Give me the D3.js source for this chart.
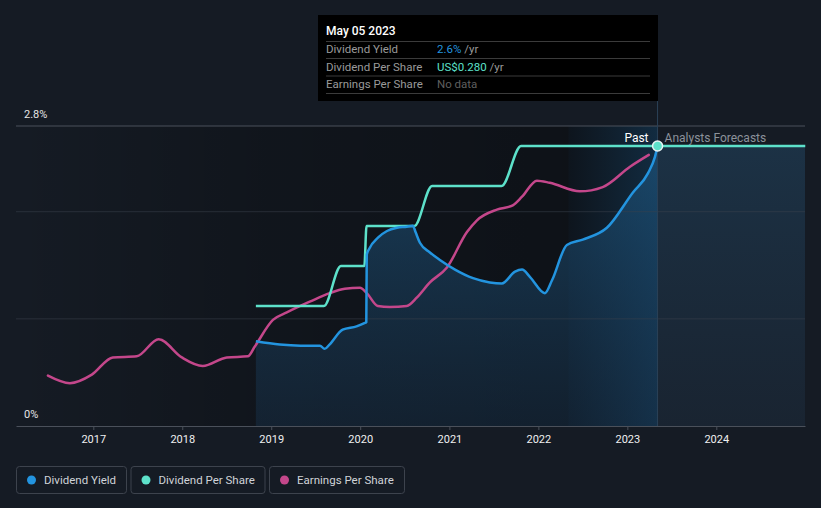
<!DOCTYPE html>
<html>
<head>
<meta charset="utf-8">
<script src="https://cdn.jsdelivr.net/npm/d3@7"></script>
<style>
  html, body { margin: 0; padding: 0; background: #151b24; }
  svg { display: block; }
  text { font-family: Roboto, "Noto Sans", sans-serif; }
</style>
</head>
<body>
<svg id="chart" width="821" height="508"></svg>
<script>
// ---------- DATA ----------
const yearTicks = [2017, 2018, 2019, 2020, 2021, 2022, 2023, 2024];
const yTickLabels = ["0%", "2.8%"];
const seriesNames = ["Dividend Yield", "Dividend Per Share", "Earnings Per Share"];

// Dividend yield (%)
const yieldDates = ["2018-10-30","2019-02-05","2019-05-01","2019-07-20","2019-08-08","2019-08-28","2019-10-21","2019-12-17","2020-01-18","2020-01-26","2020-01-28","2020-02-06","2020-03-15","2020-04-20","2020-05-31","2020-07-10","2020-08-04","2020-08-15","2020-09-02","2020-10-13","2020-11-23","2021-01-24","2021-04-08","2021-06-16","2021-08-04","2021-09-27","2021-10-26","2021-11-28","2022-01-28","2022-02-26","2022-04-28","2022-07-02","2022-10-09","2023-01-24","2023-03-27","2023-04-24","2023-05-05"];
const yieldValues = [0.79,0.76,0.75,0.75,0.72,0.76,0.90,0.93,0.96,0.97,1.60,1.65,1.76,1.82,1.85,1.86,1.87,1.81,1.71,1.62,1.55,1.46,1.38,1.34,1.33,1.44,1.46,1.39,1.24,1.36,1.69,1.74,1.85,2.18,2.36,2.51,2.61];

// Dividend per share (US$)
const dpsDates = ["2018-10-30","2019-08-05","2019-10-14","2020-01-18","2020-01-27","2020-08-10","2020-10-22","2021-08-03","2021-10-22","2024-12-31"];
const dpsValues = [0.12,0.12,0.16,0.16,0.20,0.20,0.24,0.24,0.28,0.28];

// Earnings per share (index, same vertical units as the chart)
const epsDates = ["2016-06-29","2016-09-27","2016-12-26","2017-03-22","2017-06-28","2017-09-26","2017-12-30","2018-03-26","2018-07-03","2018-09-27","2018-10-25","2019-01-08","2019-03-06","2019-06-08","2019-08-29","2019-10-30","2019-12-31","2020-01-28","2020-03-13","2020-05-02","2020-07-10","2020-08-21","2020-10-13","2020-12-22","2021-03-14","2021-04-24","2021-07-15","2021-09-18","2021-10-26","2021-12-26","2022-02-17","2022-06-20","2022-09-22","2023-01-12","2023-03-30"];
const epsValues = [0.47,0.40,0.48,0.64,0.65,0.81,0.64,0.56,0.64,0.65,0.74,0.99,1.06,1.16,1.24,1.28,1.29,1.24,1.12,1.11,1.12,1.20,1.34,1.48,1.81,1.92,2.02,2.06,2.14,2.29,2.27,2.19,2.23,2.42,2.53];

const nowDate = "2023-05-05";
const bandStartDate = "2022-05-05";
const tooltipDate = "May 05 2023";
const tooltipYield = "2.6%";
const tooltipDps = "US$0.280";

// ---------- SETUP ----------
const parse = d3.timeParse("%Y-%m-%d");
const svg = d3.select("#chart");
const W = 821, H = 508;
const pL = 16, pR = 805, pT = 126, pB = 426;

const x0 = d3.scaleTime()
  .domain([new Date(2017, 0, 1), new Date(2024, 0, 1)])
  .range([93.3, 716.3]);
const x = d3.scaleTime().domain([x0.invert(pL), x0.invert(pR)]).range([pL, pR]);
const y = d3.scaleLinear().domain([0, 2.8]).range([pB, pT]);
const yDps = d3.scaleLinear().domain([0, 0.28]).range([pB, 146]);
const yEps = d3.scaleLinear().domain([0, 2.8]).range([pB, pT]);

const yieldData = yieldDates.map((d, i) => ({ d: parse(d), v: yieldValues[i] }));
const dpsData = dpsDates.map((d, i) => ({ d: parse(d), v: dpsValues[i] }));
const epsData = epsDates.map((d, i) => ({ d: parse(d), v: epsValues[i] }));
const now = parse(nowDate);
const bandStart = parse(bandStartDate);
const xNow = x(now), xBand = x(bandStart);

const defs = svg.append("defs");
const gPast = defs.append("linearGradient").attr("id", "gPast").attr("x1", 0).attr("x2", 1).attr("y1", 0).attr("y2", 0);
gPast.append("stop").attr("offset", "0").attr("stop-color", "#000").attr("stop-opacity", 0);
gPast.append("stop").attr("offset", "0.45").attr("stop-color", "#000").attr("stop-opacity", 0.22);
gPast.append("stop").attr("offset", "1").attr("stop-color", "#000").attr("stop-opacity", 0.35);
const gBand = defs.append("linearGradient").attr("id", "gBand").attr("x1", 0).attr("x2", 1).attr("y1", 0).attr("y2", 0);
gBand.append("stop").attr("offset", "0").attr("stop-color", "#1d5f93").attr("stop-opacity", 0.05);
gBand.append("stop").attr("offset", "1").attr("stop-color", "#1d6aa3").attr("stop-opacity", 0.3);
const gArea = defs.append("linearGradient").attr("id", "gArea").attr("x1", 0).attr("x2", 0).attr("y1", 0).attr("y2", 1);
gArea.append("stop").attr("offset", "0").attr("stop-color", "#1e5a86").attr("stop-opacity", 0.6);
gArea.append("stop").attr("offset", "1").attr("stop-color", "#1a3a58").attr("stop-opacity", 0.35);
const gFc = defs.append("linearGradient").attr("id", "gFc").attr("x1", 0).attr("x2", 0).attr("y1", 0).attr("y2", 1);
gFc.append("stop").attr("offset", "0").attr("stop-color", "#1e3950").attr("stop-opacity", 0.75);
gFc.append("stop").attr("offset", "1").attr("stop-color", "#1c2a3a").attr("stop-opacity", 0.6);

defs.append("clipPath").attr("id", "clipFc").append("rect")
  .attr("x", xNow).attr("y", 0).attr("width", pR - xNow).attr("height", pB);

// background
svg.append("rect").attr("width", W).attr("height", H).attr("fill", "#151b24");
// past darkening
svg.append("rect").attr("x", pL).attr("y", pT).attr("width", xBand - pL).attr("height", pB - pT).attr("fill", "url(#gPast)");
svg.append("rect").attr("x", xBand).attr("y", pT).attr("width", xNow - xBand).attr("height", pB - pT).attr("fill", "#000").attr("opacity", 0.35);
// last-12-months band
svg.append("rect").attr("x", xBand).attr("y", pT).attr("width", xNow - xBand).attr("height", pB - pT).attr("fill", "url(#gBand)");

// forecast area under DPS
const dpsArea = d3.area().x(d => x(d.d)).y0(pB).y1(d => yDps(d.v)).curve(d3.curveMonotoneX);
svg.append("path").datum(dpsData).attr("d", dpsArea).attr("fill", "url(#gFc)").attr("clip-path", "url(#clipFc)");

// yield area
const yArea = d3.area().x(d => x(d.d)).y0(pB).y1(d => y(d.v)).curve(d3.curveMonotoneX);
svg.append("path").datum(yieldData).attr("d", yArea).attr("fill", "url(#gArea)");

// gridlines
[1, 2].forEach(v => {
  svg.append("line").attr("x1", pL).attr("x2", pR).attr("y1", y(v)).attr("y2", y(v))
    .attr("stroke", "#3a414c").attr("stroke-opacity", 0.55).attr("stroke-width", 1);
});
svg.append("line").attr("x1", pL).attr("x2", pR).attr("y1", y(2.8)).attr("y2", y(2.8))
  .attr("stroke", "#4a505a").attr("stroke-width", 1);

// now line
svg.append("line").attr("x1", xNow).attr("x2", xNow).attr("y1", 100).attr("y2", pB)
  .attr("stroke", "#2b4258").attr("stroke-width", 1);

// lines
const line = sc => d3.line().x(d => x(d.d)).y(d => sc(d.v)).curve(d3.curveMonotoneX);
svg.append("path").datum(epsData).attr("d", line(yEps)).attr("fill", "none")
  .attr("stroke", "#c4478b").attr("stroke-width", 2.5).attr("stroke-linecap", "round");
svg.append("path").datum(dpsData).attr("d", line(yDps)).attr("fill", "none")
  .attr("stroke", "#5de1ca").attr("stroke-width", 2.5);
svg.append("path").datum(yieldData).attr("d", line(y)).attr("fill", "none")
  .attr("stroke", "#2394df").attr("stroke-width", 2.5);

// marker
svg.append("circle").attr("cx", xNow).attr("cy", yDps(0.28)).attr("r", 5)
  .attr("fill", "#5de1ca").attr("stroke", "#e8f4f4").attr("stroke-width", 1.5);

// past / forecast labels
svg.append("text").attr("x", xNow - 9).attr("y", 142).attr("text-anchor", "end")
  .attr("fill", "#ffffff").attr("font-size", 12).text("Past");
svg.append("text").attr("x", xNow + 7).attr("y", 142)
  .attr("fill", "#8c929b").attr("font-size", 12).text("Analysts Forecasts");

// y labels
svg.append("text").attr("x", 24).attr("y", 118).attr("fill", "#e6e6e6").attr("font-size", 11).text(yTickLabels[1]);
svg.append("text").attr("x", 24).attr("y", 418).attr("fill", "#e6e6e6").attr("font-size", 11).text(yTickLabels[0]);

// x axis
const xAxis = d3.axisBottom(x)
  .tickValues(yearTicks.map(yy => new Date(yy, 0, 1)))
  .tickFormat(d3.timeFormat("%Y")).tickSize(4).tickSizeOuter(0).tickPadding(5);
const gx = svg.append("g").attr("transform", `translate(0,${pB})`).call(xAxis);
gx.select(".domain").attr("stroke", "#4a505a");
gx.selectAll(".tick line").attr("stroke", "#4a505a");
gx.selectAll(".tick text").attr("fill", "#f0f0f0").attr("font-size", 11)
  .attr("font-family", "Roboto, sans-serif");

// tooltip
const tt = svg.append("g");
tt.append("rect").attr("x", 318).attr("y", 15).attr("width", 340).attr("height", 86).attr("fill", "#000");
tt.append("text").attr("x", 326).attr("y", 35).attr("fill", "#fff").attr("font-size", 12).attr("font-weight", 500).text(tooltipDate);
[41.5, 58.5, 76, 93.5].forEach(yy => {
  tt.append("line").attr("x1", 326).attr("x2", 650).attr("y1", yy).attr("y2", yy).attr("stroke", "#3b3b3b");
});
const rowsY = [53, 70.5, 88];
seriesNames.forEach((n, i) => {
  tt.append("text").attr("x", 326).attr("y", rowsY[i]).attr("fill", "#9a9a9a").attr("font-size", 11.5).text(n);
});
const t1 = tt.append("text").attr("x", 437).attr("y", rowsY[0]).attr("font-size", 11.5);
t1.append("tspan").attr("fill", "#2394df").text(tooltipYield);
t1.append("tspan").attr("fill", "#9a9a9a").text(" /yr");
const t2 = tt.append("text").attr("x", 437).attr("y", rowsY[1]).attr("font-size", 11.5);
t2.append("tspan").attr("fill", "#5de1ca").text(tooltipDps);
t2.append("tspan").attr("fill", "#9a9a9a").text(" /yr");
tt.append("text").attr("x", 437).attr("y", rowsY[2]).attr("fill", "#5f5f5f").attr("font-size", 11.5).text("No data");

// legend
const legColors = ["#2394df", "#5de1ca", "#c4478b"];
const legX = [16, 130.5, 269];
const legW = [110, 134, 135];
seriesNames.forEach((n, i) => {
  const g = svg.append("g").attr("transform", `translate(${legX[i]},466)`);
  g.append("rect").attr("x", 0.5).attr("y", 0.5).attr("width", legW[i]).attr("height", 27).attr("rx", 3)
    .attr("fill", "none").attr("stroke", "#3d434d");
  g.append("circle").attr("cx", 15.5).attr("cy", 14).attr("r", 4.5).attr("fill", legColors[i]);
  g.append("text").attr("x", 28).attr("y", 18).attr("fill", "#d0d3d8").attr("font-size", 11.5).text(n);
});
</script>
</body>
</html>
